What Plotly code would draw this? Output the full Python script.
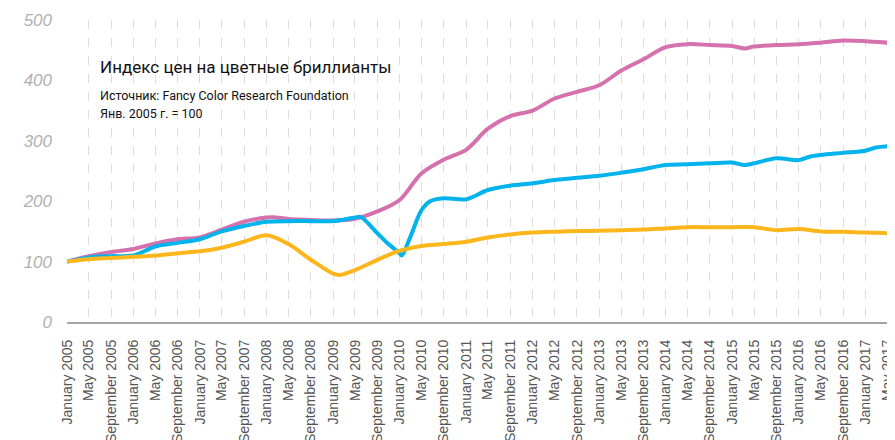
import plotly.graph_objects as go

grid_dates = [
    "2005-01-01", "2005-05-01", "2005-09-01", "2006-01-01", "2006-05-01", "2006-09-01",
    "2007-01-01", "2007-05-01", "2007-09-01", "2008-01-01", "2008-05-01", "2008-09-01",
    "2009-01-01", "2009-05-01", "2009-09-01", "2010-01-01", "2010-05-01", "2010-09-01",
    "2011-01-01", "2011-05-01", "2011-09-01", "2012-01-01", "2012-05-01", "2012-09-01",
    "2013-01-01", "2013-05-01", "2013-09-01", "2014-01-01", "2014-05-01", "2014-09-01",
    "2015-01-01", "2015-05-01", "2015-09-01", "2016-01-01", "2016-05-01", "2016-09-01",
    "2017-01-01", "2017-05-01", "2017-06-13",
]

pink_values = [
    100, 109, 116, 121, 130, 137,
    140, 153, 166, 173, 170.5, 169,
    168, 171, 183, 202, 246, 269,
    285, 320, 341, 350, 370, 381,
    392, 416, 435, 455, 460, 458.6,
    457, 456, 458.6, 459.7, 462.5, 466,
    465, 462.5, 460,
]
pink_extra_dates = ["2008-02-06", "2015-03-10"]
pink_extra_values = [173.5, 453]

blue_values = [
    100, 107, 109, 110, 125, 131,
    137, 150, 159, 166, 167, 167,
    167, 173, 147, 114, 185, 205,
    203, 218.5, 225.7, 229.6, 235, 239,
    242, 247, 253, 260, 261, 262.7,
    264, 262.7, 271, 268, 276.5, 280,
    283.6, 291, 293,
]
blue_extra_dates = ["2009-06-01", "2009-11-01", "2010-01-13", "2010-03-01",
                    "2010-06-18", "2015-03-10", "2016-03-01", "2017-03-01"]
blue_extra_values = [174, 129, 110, 141, 200, 260, 273.7, 289]

orange_values = [
    100, 104, 106, 108, 110, 114,
    117, 123, 133, 143.5, 129, 103,
    80, 86, 103, 118, 126, 129,
    133, 140, 145, 148, 149.5, 150.7,
    151, 152, 153, 155, 157, 157,
    157, 157, 152, 154, 150, 149.5,
    148, 147, 146,
]
orange_extra_dates = ["2009-02-06"]
orange_extra_values = [78]

title_text = "Индекс цен на цветные бриллианты"
source_text = "Источник: Fancy Color Research Foundation"
base_text = "Янв. 2005 г. = 100"


def merged(dates, values, extra_d, extra_v):
    pairs = sorted(list(zip(dates, values)) + list(zip(extra_d, extra_v)))
    return [p[0] for p in pairs], [p[1] for p in pairs]


series = [
    ("pink", "#d571ad", pink_values, pink_extra_dates, pink_extra_values),
    ("blue", "#00b3ec", blue_values, blue_extra_dates, blue_extra_values),
    ("orange", "#fdb71d", orange_values, orange_extra_dates, orange_extra_values),
]

fig = go.Figure()
for name, color, vals, ed, ev in series:
    xs, ys = merged(grid_dates, vals, ed, ev)
    fig.add_trace(go.Scatter(
        x=xs, y=ys, mode="lines", name=name,
        line=dict(color=color, width=4, shape="spline", smoothing=0.9),
        hoverinfo="skip",
    ))

cond = "Roboto, sans-serif"

# page body has an 8px margin, so the figure is sized to fit the 895x440 window
fig.update_layout(
    width=887, height=432,
    margin=dict(l=59, r=0, t=12, b=118),
    paper_bgcolor="white", plot_bgcolor="white",
    showlegend=False,
    xaxis=dict(
        type="date",
        range=["2005-01-01", "2017-06-13"],
        tick0="2005-01-01", dtick="M4", tickformat="%B %Y",
        tickangle=-90,
        tickfont=dict(family="Liberation Sans, Arial, sans-serif", size=14, color="#555555"),
        showgrid=True, gridcolor="#dddddd", gridwidth=1, griddash="dash",
        showline=True, linecolor="#a6a6a6", linewidth=2,
        ticks="", ticklabelstandoff=10,
        zeroline=False, automargin=False,
    ),
    yaxis=dict(
        range=[0, 500],
        tickvals=[0, 100, 200, 300, 400, 500],
        tickfont=dict(family="Liberation Sans, Arial, sans-serif", size=17, color="#b0b0b0", style="italic"),
        showgrid=False, zeroline=False, showline=False,
        ticks="", ticklabelstandoff=14, automargin=False,
    ),
    annotations=[
        dict(xref="paper", yref="paper", x=0.0374, y=0.844, xanchor="left", yanchor="middle",
             text=title_text, showarrow=False,
             font=dict(family=cond, size=17, color="#111111")),
        dict(xref="paper", yref="paper", x=0.0374, y=0.751, xanchor="left", yanchor="middle",
             text=source_text, showarrow=False,
             font=dict(family=cond, size=12.5, color="#111111")),
        dict(xref="paper", yref="paper", x=0.0374, y=0.692, xanchor="left", yanchor="middle",
             text=base_text, showarrow=False,
             font=dict(family=cond, size=12.5, color="#111111")),
    ],
)

fig.write_html("out.html")
